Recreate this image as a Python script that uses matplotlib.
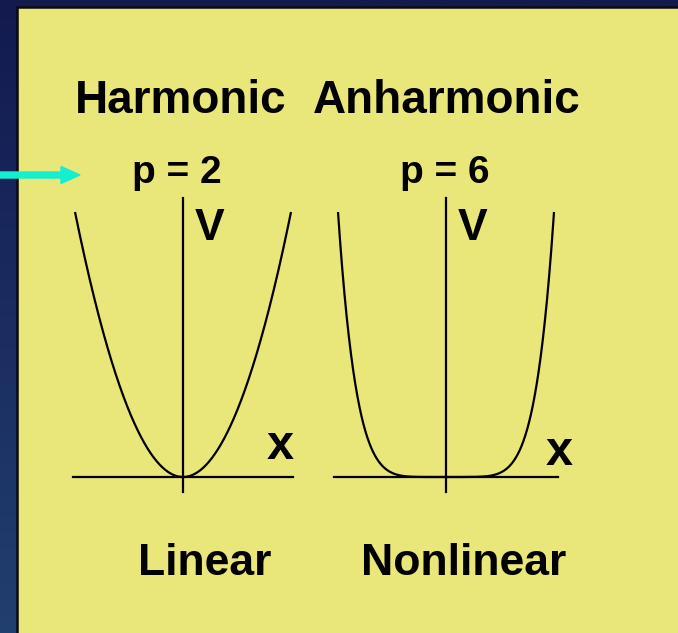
import numpy as np
import matplotlib
matplotlib.use("Agg")
import matplotlib.pyplot as plt
from matplotlib.patches import Rectangle, FancyArrow
from matplotlib.colors import LinearSegmentedColormap

# ---- data ----
titles = ["Harmonic", "Anharmonic"]
p_values = [2, 6]
bottom_labels = ["Linear", "Nonlinear"]
y_label = "V"
x_label = "x"

W, H = 678, 633
fig = plt.figure(figsize=(W / 100, H / 100), dpi=100)
FONT = "Liberation Sans"

# background
bg = fig.add_axes([0, 0, 1, 1])
bg.set_xlim(0, W)
bg.set_ylim(H, 0)
bg.axis("off")
grad = np.linspace(0, 1, 256)[:, None]
cmap = LinearSegmentedColormap.from_list("bgc", ["#131a4e", "#1a2c62", "#213f6f"])
bg.imshow(grad, extent=[0, W, H, 0], cmap=cmap, aspect="auto", zorder=0)
bg.add_patch(Rectangle((17, 7), W + 20, H + 20, facecolor="#e9e67a",
                       edgecolor="#0a0a10", linewidth=1.8, zorder=1))
bg.add_patch(FancyArrow(0, 175, 80, 0, width=6, head_width=17, head_length=19,
                        length_includes_head=True, color="#14efd0", zorder=2))

def px(x, y):
    return x / W, 1 - y / H

centers = [183, 446]
haxis_half = [110, 112]
xscale = 108.0   # px per data unit in x
yscale = 265.0   # px per data unit in V
y0 = 477         # pixel row of V = 0
box_l, box_r, box_t, box_b = -120, 120, 190, 500

for i, (cx, p) in enumerate(zip(centers, p_values)):
    left, right = cx + box_l, cx + box_r
    ax = fig.add_axes([left / W, 1 - box_b / H, (right - left) / W, (box_b - box_t) / H])
    ax.set_xlim(box_l / xscale, box_r / xscale)
    ax.set_ylim((y0 - box_b) / yscale, (y0 - box_t) / yscale)
    ax.axis("off")
    ax.patch.set_alpha(0)
    xs = np.linspace(-1, 1, 801)
    ax.plot(xs, np.abs(xs) ** p, color="black", lw=1.6, solid_capstyle="butt")
    hh = haxis_half[i] / xscale
    ax.plot([-hh, hh], [0, 0], color="black", lw=1.6)
    ax.plot([0, 0], [(y0 - 492) / yscale, (y0 - 198) / yscale], color="black", lw=1.6)

# texts
title_x = [181, 447]
for t, x in zip(titles, title_x):
    fig.text(*px(x, 113), t, ha="center", va="baseline", family=FONT,
             weight="bold", fontsize=33, color="black")
p_x = [177, 445]
for p, x in zip(p_values, p_x):
    fig.text(*px(x, 183), f"p = {p}", ha="center", va="baseline", family=FONT,
             weight="bold", fontsize=28, color="black")
v_x = [195, 458]
for x in v_x:
    fig.text(*px(x, 240), y_label, ha="left", va="baseline", family=FONT,
             weight="bold", fontsize=32, color="black")
xl_x = [280, 559]
xl_y = [459, 465]
for x, y in zip(xl_x, xl_y):
    fig.text(*px(x, y), x_label, ha="center", va="baseline", family=FONT,
             weight="bold", fontsize=35, color="black")
bl_x = [205, 464]
for t, x in zip(bottom_labels, bl_x):
    fig.text(*px(x, 575), t, ha="center", va="baseline", family=FONT,
             weight="bold", fontsize=32, color="black")

fig.savefig("out.png", dpi=100)
